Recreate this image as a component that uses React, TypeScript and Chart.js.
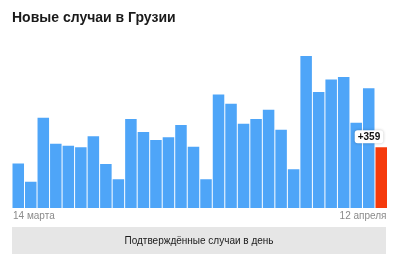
import React, { useEffect, useRef } from "react";
import { Chart, registerables } from "chart.js";

Chart.register(...registerables);

const title = "Новые случаи в Грузии";
const legendText = "Подтверждённые случаи в день";
const categories = [
  "14 марта", "15 марта", "16 марта", "17 марта", "18 марта", "19 марта", "20 марта", "21 марта",
  "22 марта", "23 марта", "24 марта", "25 марта", "26 марта", "27 марта", "28 марта", "29 марта",
  "30 марта", "31 марта", "1 апреля", "2 апреля", "3 апреля", "4 апреля", "5 апреля", "6 апреля",
  "7 апреля", "8 апреля", "9 апреля", "10 апреля", "11 апреля", "12 апреля",
];
const cases = [
  264, 156, 534, 380, 368, 359, 424, 260, 170, 526, 449, 402, 418, 491, 363,
  170, 672, 617, 499, 526, 581, 463, 229, 899, 686, 761, 775, 505, 708, 359,
];
const yMax = 1000;

const BLUE = "#4ea5f8";
const RED = "#f53a0c";

export default function App() {
  const ref = useRef<HTMLCanvasElement | null>(null);

  useEffect(() => {
    document.body.style.margin = "0";
    const canvas = ref.current!;
    const lastIdx = cases.length - 1;

    const overlay = {
      id: "overlay",
      afterDraw(chart: any) {
        const ctx = chart.ctx as CanvasRenderingContext2D;
        const x = chart.scales.x;
        const y = chart.scales.y;
        const area = chart.chartArea;
        ctx.save();
        // title
        ctx.fillStyle = "#1a1a1a";
        ctx.font = "bold 14px 'Liberation Sans', Arial, sans-serif";
        ctx.textBaseline = "middle";
        ctx.textAlign = "left";
        ctx.fillText(title, 12, 18);

        // x labels
        ctx.fillStyle = "#8a8a8a";
        ctx.font = "10px 'Liberation Sans', Arial, sans-serif";
        ctx.textAlign = "left";
        ctx.fillText(categories[0], area.left + 1, 216);
        ctx.textAlign = "right";
        ctx.fillText(categories[lastIdx], area.right - 1, 216);

        // legend box
        ctx.fillStyle = "#e6e6e6";
        ctx.fillRect(12, 227, 374, 27);
        ctx.fillStyle = "#1a1a1a";
        ctx.font = "10px 'Liberation Sans', Arial, sans-serif";
        ctx.textAlign = "center";
        ctx.fillText(legendText, 199, 241);

        // value badge
        const bx = x.getPixelForValue(lastIdx);
        const by = y.getPixelForValue(cases[lastIdx]);
        const label = "+" + cases[lastIdx];
        ctx.font = "bold 10px 'Liberation Sans', Arial, sans-serif";
        const w = ctx.measureText(label).width + 6;
        const h = 13;
        const rx = bx + 2 - w;
        const ry = by - 17;
        ctx.shadowColor = "rgba(0,0,0,0.25)";
        ctx.shadowBlur = 3;
        ctx.fillStyle = "#ffffff";
        ctx.beginPath();
        (ctx as any).roundRect(rx, ry, w, h, 3);
        ctx.fill();
        ctx.shadowColor = "transparent";
        ctx.fillStyle = "#111111";
        ctx.textAlign = "center";
        ctx.fillText(label, rx + w / 2, ry + h / 2 + 0.5);
        ctx.restore();
      },
    };

    const chart = new Chart(canvas, {
      type: "bar",
      data: {
        labels: categories,
        datasets: [
          {
            data: cases,
            backgroundColor: cases.map((_, i) => (i === lastIdx ? RED : BLUE)),
            barPercentage: 0.92,
            categoryPercentage: 1,
            borderWidth: 0,
          },
        ],
      },
      options: {
        responsive: false,
        animation: false,
        layout: { padding: { left: 12, right: 12.5, top: 39, bottom: 46 } },
        plugins: { legend: { display: false }, tooltip: { enabled: false }, title: { display: false } },
        scales: {
          x: { display: false },
          y: { display: false, min: 0, max: yMax },
        },
      },
      plugins: [overlay],
    });
    return () => chart.destroy();
  }, []);

  return (
    <div style={{ position: "absolute", left: 0, top: 0, width: 400, height: 254 }}>
      <canvas ref={ref} width={400} height={254} style={{ width: 400, height: 254, display: "block" }} />
    </div>
  );
}
